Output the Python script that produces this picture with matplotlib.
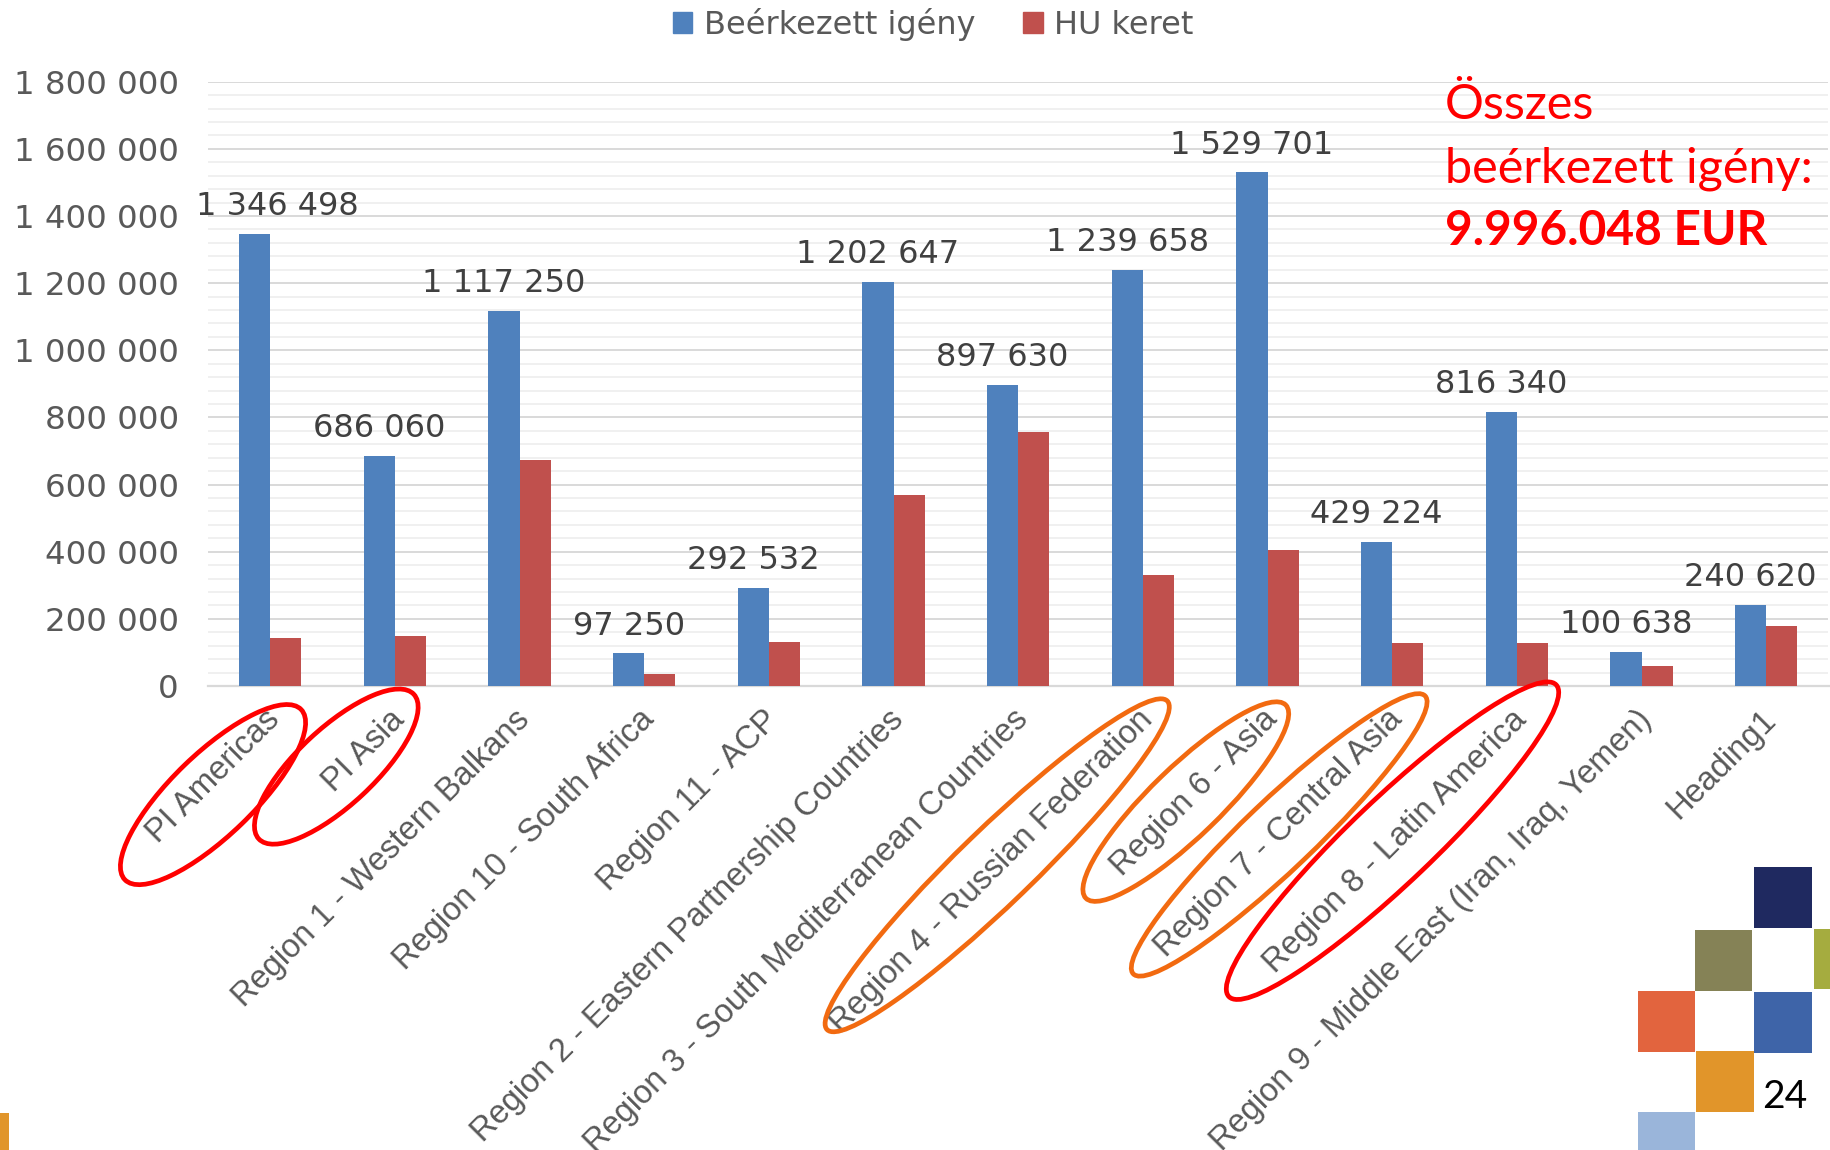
import matplotlib
matplotlib.use("Agg")
import matplotlib.pyplot as plt
import matplotlib.transforms as mtransforms
from matplotlib.patches import Ellipse, Rectangle, Patch
from matplotlib.ticker import MultipleLocator, FuncFormatter
import numpy as np

categories = ["PI Americas", "PI Asia", "Region 1 - Western Balkans",
              "Region 10 - South Africa", "Region 11 - ACP",
              "Region 2 - Eastern Partnership Countries",
              "Region 3 - South Mediterranean Countries",
              "Region 4 - Russian Federation", "Region 6 - Asia",
              "Region 7 - Central Asia", "Region 8 - Latin America",
              "Region 9 - Middle East (Iran, Iraq, Yemen)", "Heading1"]
igeny = [1346498, 686060, 1117250, 97250, 292532, 1202647, 897630,
         1239658, 1529701, 429224, 816340, 100638, 240620]
hu_keret = [142000, 149000, 672000, 35000, 130000, 570000, 757000,
            330000, 405000, 127000, 129000, 59000, 178000]
series_names = ["Beérkezett igény", "HU keret"]
yticks = list(range(0, 1800001, 200000))

W, H = 1831, 1150
fig = plt.figure(figsize=(W / 100, H / 100), dpi=100)
ax = fig.add_axes([208 / W, 1 - 686 / H, (1828.5 - 208) / W, (686 - 81.7) / H])

BLUE = "#4F81BD"
RED = "#C0504D"
GRAY = "#595959"

x = np.arange(len(categories))
bw = 0.25
ax.bar(x - bw / 2, igeny, bw, color=BLUE, label=series_names[0], zorder=3)
ax.bar(x + bw / 2, hu_keret, bw, color=RED, label=series_names[1], zorder=3)

ax.set_xlim(-0.5, len(categories) - 0.5)
ax.set_ylim(0, 1800000)
ax.yaxis.set_major_locator(MultipleLocator(200000))
ax.yaxis.set_minor_locator(MultipleLocator(40000))
fmt = lambda v: f"{int(round(v)):,}".replace(",", " ")
ax.yaxis.set_major_formatter(FuncFormatter(lambda v, p: fmt(v)))
ax.set_yticks(yticks)
ax.grid(which="major", axis="y", color="#D9D9D9", lw=1.4, zorder=0)
ax.grid(which="minor", axis="y", color="#F0F0F0", lw=1.4, zorder=0)
ax.set_axisbelow(True)
for s in ["top", "right", "left"]:
    ax.spines[s].set_visible(False)
ax.spines["bottom"].set_color("#D9D9D9")
ax.spines["bottom"].set_linewidth(1.6)
ax.tick_params(axis="y", which="both", length=0, pad=21, labelsize=23.3,
               labelcolor=GRAY)
for t in ax.get_yticklabels():
    t.set_family("DejaVu Sans")

ax.set_xticks(x)
ax.set_xticklabels(categories, rotation=45, ha="right", va="center",
                   rotation_mode="anchor", fontsize=23.5,
                   family="Liberation Sans", color=GRAY)
ax.tick_params(axis="x", length=0, pad=0)
off = mtransforms.ScaledTranslation(5 / 100, -29 / 100, fig.dpi_scale_trans)
for lbl in ax.get_xticklabels():
    lbl.set_transform(lbl.get_transform() + off)

# data labels for the first series
for i, v in enumerate(igeny):
    dx = 16 if i == 0 else 0
    ax.annotate(fmt(v), (x[i] - bw / 2, v), xytext=(dx, 13.5),
                textcoords="offset points", ha="center", va="baseline",
                fontsize=23, color="#404040", family="DejaVu Sans",
                zorder=5)

# legend
handles = [Patch(color=BLUE), Patch(color=RED)]
fig.legend(handles, series_names, loc="center", bbox_to_anchor=(933 / W, 1 - 24.5 / H),
           ncol=2, frameon=False, handlelength=0.62,
           handleheight=0.62, handletextpad=0.35, columnspacing=1.5,
           labelcolor=GRAY, prop={"family": "DejaVu Sans", "size": 23})

# total annotation
tx = 1445 / W
fig.text(tx, 1 - 119 / H, "Összes", color="#FF0000", fontsize=35,
         family="Lato", va="baseline", ha="left")
fig.text(tx, 1 - 182 / H, "beérkezett igény:", color="#FF0000", fontsize=35,
         family="Lato", va="baseline", ha="left")
fig.text(tx, 1 - 245 / H, "9.996.048 EUR", color="#FF0000", fontsize=34.5,
         family="Lato", weight="bold", va="baseline", ha="left")

# hand-drawn style ellipses around labels (pixel coords -> inches)
def ell(cx, cy, major, minor, ang, col):
    e = Ellipse((cx / 100, (H - cy) / 100), major / 100, minor / 100, angle=ang,
                fill=False, edgecolor=col, lw=3.4, transform=fig.dpi_scale_trans,
                zorder=10)
    fig.add_artist(e)

ORANGE = "#F26A10"
ell(213, 794.6, 245, 82, 44, "#FF0000")
ell(336.3, 766.6, 212, 77, 43, "#FF0000")
ell(997.2, 865.3, 473, 75, 44, ORANGE)
ell(1185.8, 801.6, 278, 70, 44, ORANGE)
ell(1279.2, 834.9, 403, 70, 43.6, ORANGE)
ell(1392.5, 840.7, 452, 84, 43.6, "#FF0000")

# decorative squares
squares = [
    (1754, 867, 1812, 928, "#1F2960"),
    (1695, 930, 1752, 991, "#858256"),
    (1814, 929, 1831, 989, "#A5AC3F"),
    (1638, 991, 1695, 1052, "#E2643E"),
    (1754, 992, 1812, 1053, "#3E64A8"),
    (1696, 1051, 1754, 1112, "#E1952A"),
    (1638, 1112, 1695, 1150, "#9AB5DA"),
    (0, 1113, 9, 1150, "#E1952A"),
]
for x0, y0, x1, y1, c in squares:
    fig.add_artist(Rectangle((x0 / W, 1 - y1 / H), (x1 - x0) / W, (y1 - y0) / H,
                             transform=fig.transFigure, color=c, lw=0))
fig.text(1762 / W, 1 - 1108 / H, "24", fontsize=28, family="Lato",
         color="black", va="baseline", ha="left")

fig.savefig("out.png", dpi=100)
